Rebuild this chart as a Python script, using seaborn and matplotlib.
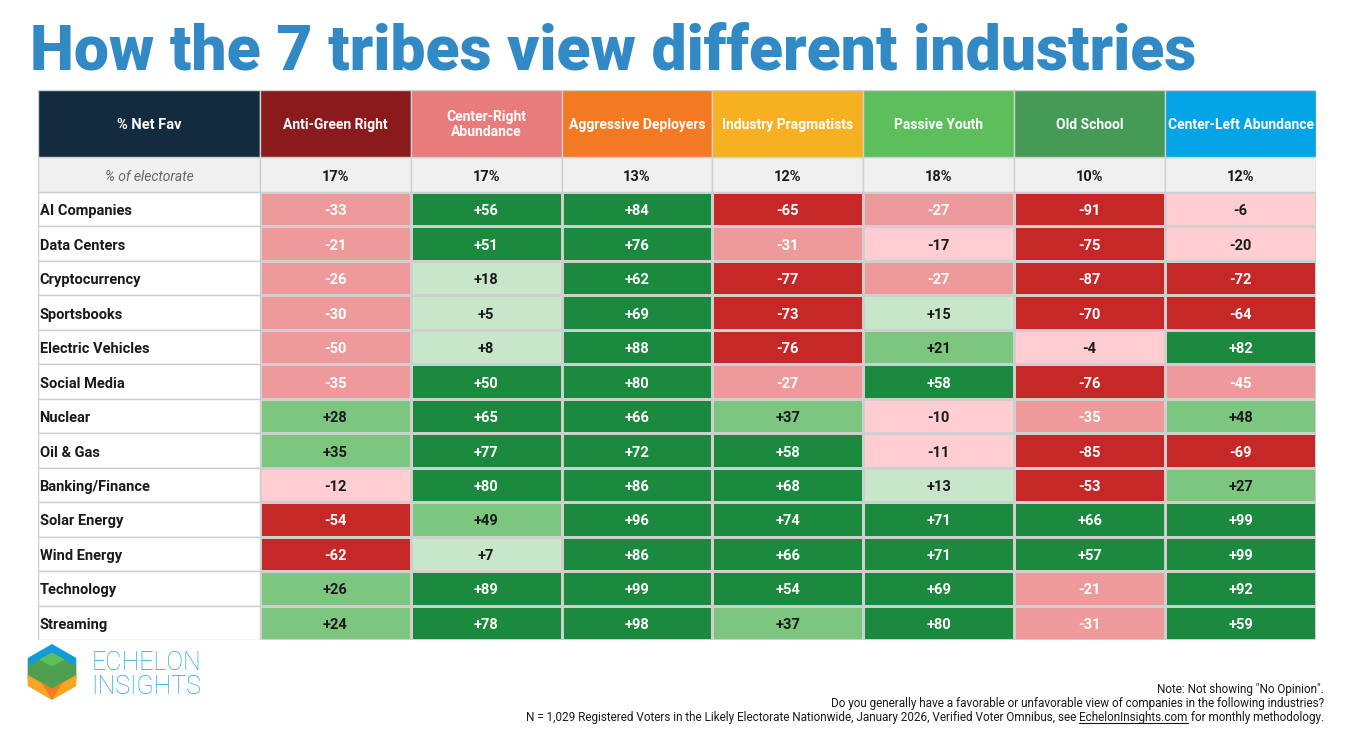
import numpy as np
import pandas as pd
import matplotlib.pyplot as plt
import seaborn as sns
from matplotlib.colors import ListedColormap, BoundaryNorm
from matplotlib.patches import Rectangle, Polygon

# Data
tribes = ['Anti-Green Right', 'Center-Right\nAbundance', 'Aggressive Deployers',
          'Industry Pragmatists', 'Passive Youth', 'Old School', 'Center-Left Abundance']
tribe_colors = ['#8B1A1D', '#E87C7C', '#F27A22', '#F6B022', '#5CBF5C', '#459B56', '#03A4E6']
electorate = ['17%', '17%', '13%', '12%', '18%', '10%', '12%']
industries = ['AI Companies', 'Data Centers', 'Cryptocurrency', 'Sportsbooks',
              'Electric Vehicles', 'Social Media', 'Nuclear', 'Oil & Gas',
              'Banking/Finance', 'Solar Energy', 'Wind Energy', 'Technology', 'Streaming']
anti_green_right = [-33, -21, -26, -30, -50, -35, 28, 35, -12, -54, -62, 26, 24]
center_right = [56, 51, 18, 5, 8, 50, 65, 77, 80, 49, 7, 89, 78]
aggressive = [84, 76, 62, 69, 88, 80, 66, 72, 86, 96, 86, 99, 98]
pragmatists = [-65, -31, -77, -73, -76, -27, 37, 58, 68, 74, 66, 54, 37]
passive_youth = [-27, -17, -27, 15, 21, 58, -10, -11, 13, 71, 71, 69, 80]
old_school = [-91, -75, -87, -70, -4, -76, -35, -85, -53, 66, 57, -21, -31]
center_left = [-6, -20, -72, -64, 82, -45, 48, -69, 27, 99, 99, 92, 59]

df = pd.DataFrame({
    'Anti-Green Right': anti_green_right,
    'Center-Right Abundance': center_right,
    'Aggressive Deployers': aggressive,
    'Industry Pragmatists': pragmatists,
    'Passive Youth': passive_youth,
    'Old School': old_school,
    'Center-Left Abundance': center_left,
}, index=industries)

# colour bins
bin_edges = [-101, -50.5, -20.5, 0, 20.5, 49.5, 101]
bin_colors = ['#C62828', '#EF9A9A', '#FFCDD2', '#C8E6C9', '#7DC67F', '#1B8A3E']
white_text_bins = {0, 1, 5}
cmap = ListedColormap(bin_colors)
norm = BoundaryNorm(bin_edges, cmap.N)

sns.set_style('white')
plt.rcParams['font.family'] = ['Roboto', 'DejaVu Sans']

fig = plt.figure(figsize=(13.56, 7.56), dpi=100)
W, H = 1356, 756
ax = fig.add_axes([38 / W, (H - 640) / H, (1316 - 38) / W, (640 - 90) / H])

labels = df.apply(lambda c: c.map(lambda v: f'{v:+d}')).values
sns.heatmap(df, ax=ax, cmap=cmap, norm=norm, cbar=False, annot=labels, fmt='',
            linewidths=1, linecolor='#CFCFCF',
            annot_kws={'fontsize': 10.5, 'fontweight': 'bold'})

vals = df.values
for t in ax.texts:
    x, y = t.get_position()
    v = vals[int(y), int(x)]
    b = np.digitize(v, bin_edges) - 1
    t.set_color('white' if b in white_text_bins else '#1A1A1A')
    t.set_position((x, y + 0.06))

label_w = 222 / 151
head_h = 67 / 34.46
elec_h = 35 / 34.46
ax.set_xlim(-label_w, len(tribes))
ax.set_ylim(len(industries), -(head_h + elec_h))
ax.set_xticks([])
ax.set_yticks([])
for s in ax.spines.values():
    s.set_visible(False)

edge = '#CFCFCF'
# row label cells
for i, name in enumerate(industries):
    ax.add_patch(Rectangle((-label_w, i), label_w, 1, facecolor='white', edgecolor=edge, lw=1))
    ax.text(-label_w + 0.01, i + 0.56, name, ha='left', va='center',
            fontsize=10.5, fontweight='bold', color='#1A1A1A')

# electorate row
ey = -elec_h
ax.add_patch(Rectangle((-label_w, ey), label_w, elec_h, facecolor='#F0F0F0', edgecolor=edge, lw=1))
ax.text(-label_w / 2, ey + elec_h / 2 + 0.06, '% of electorate', ha='center', va='center',
        fontsize=10, style='italic', color='#666666')
for j, e in enumerate(electorate):
    ax.add_patch(Rectangle((j, ey), 1, elec_h, facecolor='#F0F0F0', edgecolor=edge, lw=1))
    ax.text(j + 0.5, ey + elec_h / 2 + 0.06, e, ha='center', va='center',
            fontsize=10.5, fontweight='bold', color='#1A1A1A')

# header row
hy = -(head_h + elec_h)
ax.add_patch(Rectangle((-label_w, hy), label_w, head_h, facecolor='#132B3F', edgecolor=edge, lw=1))
ax.text(-label_w / 2, hy + head_h / 2 + 0.03, '% Net Fav', ha='center', va='center',
        fontsize=10.5, fontweight='bold', color='white')
for j, (name, c) in enumerate(zip(tribes, tribe_colors)):
    ax.add_patch(Rectangle((j, hy), 1, head_h, facecolor=c, edgecolor=edge, lw=1))
    ax.text(j + 0.5, hy + head_h / 2 + 0.03, name, ha='center', va='center',
            fontsize=10, fontweight='bold', color='white', linespacing=1.15)

# title
fig.text(30 / W, 1 - 70 / H, 'How the 7 tribes view different industries', ha='left',
         va='baseline', fontsize=45, fontweight='black', color='#3189C5')

# logo
lx, ly, r = 52, 672, 28
def hexpt(a):
    ang = np.deg2rad(a)
    return (lx + r * np.cos(ang), ly + r * np.sin(ang))
def to_fig(pts):
    return [(px / W, 1 - py / H) for px, py in pts]
top = [hexpt(-150), hexpt(-90), hexpt(-30), (lx + r * 0.87, ly - r * 0.2),
       (lx, ly + r * 0.3), (lx - r * 0.87, ly - r * 0.2)]
mid = [(lx - r * 0.87, ly - r * 0.2), (lx, ly - r * 0.7), (lx + r * 0.87, ly - r * 0.2),
       (lx + r * 0.87, ly + r * 0.25), (lx, ly + r * 0.75), (lx - r * 0.87, ly + r * 0.25)]
bot = [(lx - r * 0.87, ly + r * 0.1), (lx, ly + r * 0.6), (lx + r * 0.87, ly + r * 0.1),
       hexpt(30), hexpt(90), hexpt(150)]
for pts, c in [(top, '#129BDB'), (mid, '#4E9F4F'), (bot, '#F6A623')]:
    fig.patches.append(Polygon(to_fig(pts), closed=True, facecolor=c, edgecolor='none',
                               transform=fig.transFigure))
fig.patches.append(Polygon(to_fig([(lx - r * 0.4, ly + r * 0.35), (lx, ly + r * 0.6),
                                   (lx + r * 0.4, ly + r * 0.35), hexpt(90)]),
                           closed=True, facecolor='#F47C20', edgecolor='none',
                           transform=fig.transFigure))
fig.patches.append(Polygon(to_fig([(lx - r * 0.45, ly - r * 0.45), (lx, ly - r * 0.7),
                                   (lx + r * 0.45, ly - r * 0.45), (lx, ly - r * 0.2)]),
                           closed=True, facecolor='#5CBF5C', edgecolor='none',
                           transform=fig.transFigure))
fig.text(91 / W, 1 - 670 / H, 'ECHELON', ha='left', va='baseline', fontsize=18,
         fontweight='light', color='#1AA3E8')
fig.text(91 / W, 1 - 694 / H, 'INSIGHTS', ha='left', va='baseline', fontsize=18,
         fontweight='light', color='#1AA3E8')

# footnotes
fx = 1324 / W
fs = 8.5
fig.text(fx, 1 - 693 / H, 'Note: Not showing "No Opinion".', ha='right', va='baseline',
         fontsize=fs, color='#1A1A1A')
fig.text(fx, 1 - 707 / H,
         'Do you generally have a favorable or unfavorable view of companies in the following industries?',
         ha='right', va='baseline', fontsize=fs, color='#1A1A1A')
renderer = fig.canvas.get_renderer()
t3 = fig.text(fx, 1 - 721 / H, ' for monthly methodology.', ha='right', va='baseline',
              fontsize=fs, color='#1A1A1A')
bb = t3.get_window_extent(renderer)
t2 = fig.text(bb.x0 / W, 1 - 721 / H, 'EchelonInsights.com', ha='right', va='baseline',
              fontsize=fs, color='#1A1A1A')
bb2 = t2.get_window_extent(renderer)
fig.add_artist(plt.Line2D([bb2.x0 / W, bb2.x1 / W], [1 - 723 / H, 1 - 723 / H],
                          color='#1A1A1A', lw=0.8, transform=fig.transFigure))
fig.text(bb2.x0 / W, 1 - 721 / H,
         'N = 1,029 Registered Voters in the Likely Electorate Nationwide, January 2026, '
         'Verified Voter Omnibus, see ',
         ha='right', va='baseline', fontsize=fs, color='#1A1A1A')

fig.savefig('out.png', dpi=100, facecolor='white')
